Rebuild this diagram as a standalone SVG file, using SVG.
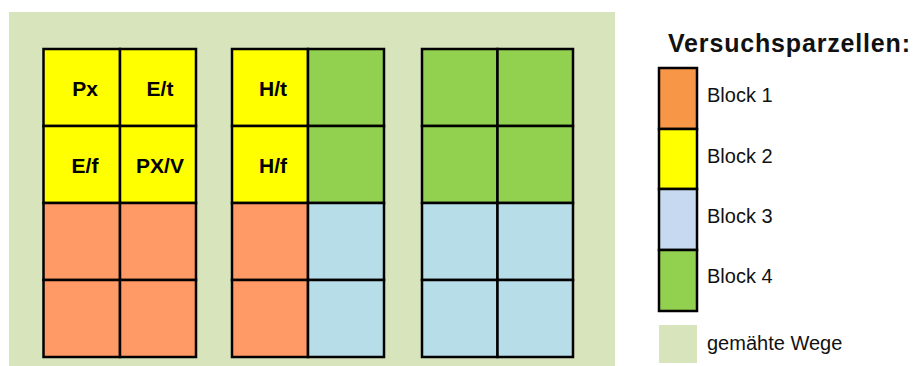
<svg xmlns="http://www.w3.org/2000/svg" width="913" height="366" viewBox="0 0 913 366">
<style>
.c{stroke:#000;stroke-width:2.5}
.y{fill:#FFFF00}.o{fill:#FF9966}.b{fill:#B7DDE8}.g{fill:#92D050}
.lab{font-family:"Liberation Sans",Arial,sans-serif;font-weight:bold;font-size:21px;text-anchor:middle;fill:#000}
.leg{font-family:"Liberation Sans",Arial,sans-serif;font-size:20px;fill:#111}
</style>
<rect x="0" y="0" width="913" height="366" fill="#fff"/>
<rect id="wege" x="9" y="12" width="606" height="354" fill="#D8E4BC"/>
<g id="parzelle1">
<rect class="c y" x="43.5" y="49" width="76.5" height="77"/>
<rect class="c y" x="120" y="49" width="76" height="77"/>
<rect class="c y" x="43.5" y="126" width="76.5" height="77"/>
<rect class="c y" x="120" y="126" width="76" height="77"/>
<rect class="c o" x="43.5" y="203" width="76.5" height="77"/>
<rect class="c o" x="120" y="203" width="76" height="77"/>
<rect class="c o" x="43.5" y="280" width="76.5" height="77"/>
<rect class="c o" x="120" y="280" width="76" height="77"/>
<text class="lab" x="85" y="96">Px</text>
<text class="lab" x="160" y="96">E/t</text>
<text class="lab" x="85" y="173">E/f</text>
<text class="lab" x="160" y="173">PX/V</text>
</g>
<g id="parzelle2">
<rect class="c y" x="232" y="49" width="76" height="77"/>
<rect class="c g" x="308" y="49" width="76" height="77"/>
<rect class="c y" x="232" y="126" width="76" height="77"/>
<rect class="c g" x="308" y="126" width="76" height="77"/>
<rect class="c o" x="232" y="203" width="76" height="77"/>
<rect class="c b" x="308" y="203" width="76" height="77"/>
<rect class="c o" x="232" y="280" width="76" height="77"/>
<rect class="c b" x="308" y="280" width="76" height="77"/>
<text class="lab" x="273" y="96">H/t</text>
<text class="lab" x="273" y="173">H/f</text>
</g>
<g id="parzelle3">
<rect class="c g" x="422" y="49" width="75.5" height="77"/>
<rect class="c g" x="497.5" y="49" width="75.5" height="77"/>
<rect class="c g" x="422" y="126" width="75.5" height="77"/>
<rect class="c g" x="497.5" y="126" width="75.5" height="77"/>
<rect class="c b" x="422" y="203" width="75.5" height="77"/>
<rect class="c b" x="497.5" y="203" width="75.5" height="77"/>
<rect class="c b" x="422" y="280" width="75.5" height="77"/>
<rect class="c b" x="497.5" y="280" width="75.5" height="77"/>
</g>
<g id="legende">
<text x="668" y="52" font-family="Liberation Sans,Arial,sans-serif" font-weight="bold" font-size="25" textLength="242" fill="#111">Versuchsparzellen:</text>
<rect class="c" x="659" y="68" width="38" height="61" fill="#F79646"/>
<rect class="c" x="659" y="129" width="38" height="60" fill="#FFFF00"/>
<rect class="c" x="659" y="189" width="38" height="61" fill="#C6D9F1"/>
<rect class="c" x="659" y="250" width="38" height="61" fill="#92D050"/>
<rect x="659" y="325" width="38" height="38" fill="#D8E4BC"/>
<text class="leg" x="707" y="102">Block 1</text>
<text class="leg" x="707" y="163">Block 2</text>
<text class="leg" x="707" y="223">Block 3</text>
<text class="leg" x="707" y="283">Block 4</text>
<text class="leg" x="707" y="350">gemähte Wege</text>
</g>
</svg>
